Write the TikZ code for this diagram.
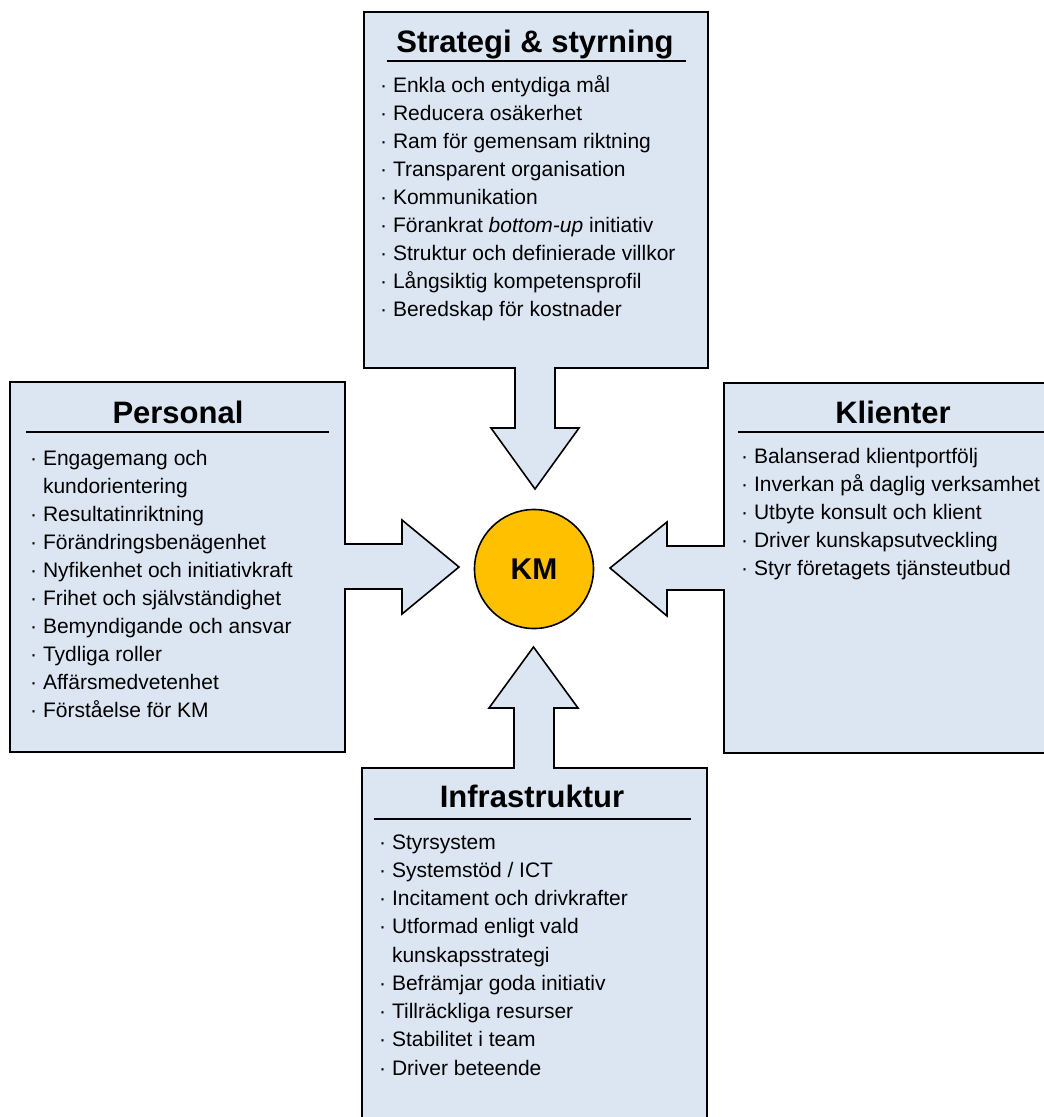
\documentclass[tikz,border=0pt]{standalone}
\usepackage{fontspec}
\setmainfont{Liberation Sans}
\definecolor{panelblue}{HTML}{DCE6F2}
\definecolor{kmgold}{HTML}{FFC000}
\tikzset{
  panel/.style={draw=black, fill=panelblue, line width=1.6pt, line join=miter},
  headline/.style={anchor=base, inner sep=0pt, font=\fontsize{31}{36}\selectfont\bfseries},
  item/.style={anchor=base west, inner sep=0pt, font=\fontsize{21}{25}\selectfont},
  rule/.style={line width=1.6pt}
}
\begin{document}
\begin{tikzpicture}[x=1pt, y=-1pt]
  \useasboundingbox (0,0) rectangle (1044,1117);
  \clip (0,0) rectangle (1044,1117);

  % Strategi & styrning, arrow down
  \draw[panel] (364,12) -- (708,12) -- (708,368) -- (555,368) -- (555,428) -- (579,428)
    -- (535,489) -- (491,428) -- (515,428) -- (515,368) -- (364,368) -- cycle;
  \node[headline] (strh) at (535,52) {Strategi \& styrning};
  \draw[rule] (387,61) -- (686,61);
  \foreach \txt [count=\i] in {Enkla och entydiga mål, Reducera osäkerhet,
      Ram för gemensam riktning, Transparent organisation, Kommunikation,
      Förankrat \textit{bottom-up} initiativ, Struktur och definierade villkor,
      Långsiktig kompetensprofil, Beredskap för kostnader}
    \node[item] (str\i) at (380,{92+28.1*(\i-1)}) {· \txt};

  % Personal, arrow right
  \draw[panel] (10,382) -- (345,382) -- (345,544) -- (402,544) -- (402,520) -- (459,567)
    -- (402,614) -- (402,589) -- (345,589) -- (345,752) -- (10,752) -- cycle;
  \node[headline] (perh) at (178,423) {Personal};
  \draw[rule] (26,432) -- (329,432);
  \foreach \txt [count=\i] in {· Engagemang och, \hphantom{· }kundorientering,
      · Resultatinriktning, · Förändringsbenägenhet, · Nyfikenhet och initiativkraft,
      · Frihet och självständighet, · Bemyndigande och ansvar, · Tydliga roller,
      · Affärsmedvetenhet, · Förståelse för KM}
    \node[item] (per\i) at (30,{465+28.1*(\i-1)}) {\txt};

  % Klienter, arrow left
  \draw[panel] (1060,383) -- (724,383) -- (724,546) -- (667,546) -- (667,522) -- (610,568)
    -- (667,616) -- (667,590) -- (724,590) -- (724,753) -- (1060,753) -- cycle;
  \node[headline] (klih) at (893,423) {Klienter};
  \draw[rule] (738,432) -- (1050,432);
  \foreach \txt [count=\i] in {Balanserad klientportfölj, Inverkan på daglig verksamhet,
      Utbyte konsult och klient, Driver kunskapsutveckling, Styr företagets tjänsteutbud}
    \node[item] (kli\i) at (741,{463+28*(\i-1)}) {· \txt};

  % Infrastruktur, arrow up
  \draw[panel] (362,1130) -- (362,768) -- (514,768) -- (514,708) -- (489,708) -- (533.5,647)
    -- (578,708) -- (554,708) -- (554,768) -- (707,768) -- (707,1130) -- cycle;
  \node[headline] (infh) at (532,807) {Infrastruktur};
  \draw[rule] (374,819) -- (691,819);
  \foreach \txt [count=\i] in {· Styrsystem, · Systemstöd / ICT, · Incitament och drivkrafter,
      · Utformad enligt vald, \hphantom{· }kunskapsstrategi, · Befrämjar goda initiativ,
      · Tillräckliga resurser, · Stabilitet i team, · Driver beteende}
    \node[item] (inf\i) at (379,{849+28.25*(\i-1)}) {\txt};

  % centre
  \node[circle, draw=black, fill=kmgold, line width=1.6pt, minimum size=119pt, inner sep=0pt,
    font=\fontsize{30}{36}\selectfont\bfseries] (km) at (534,569) {KM};
\end{tikzpicture}
\end{document}
